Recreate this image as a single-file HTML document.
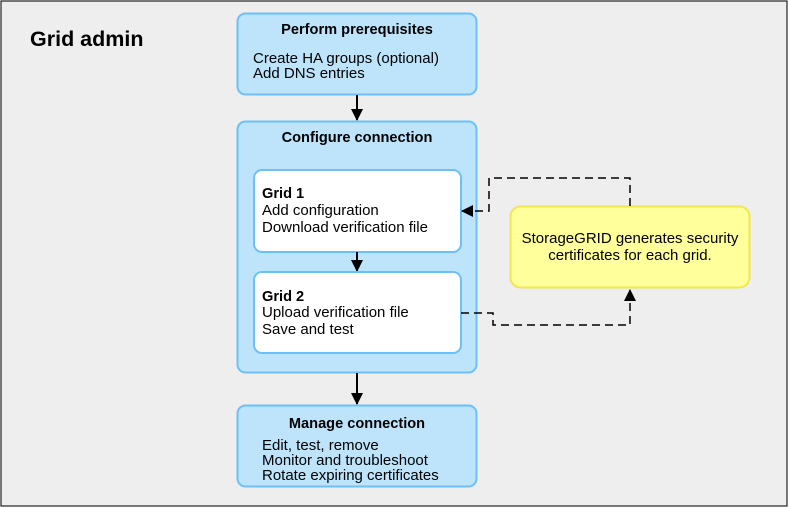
<!DOCTYPE html>
<html><head><meta charset="utf-8"><style>
html,body{margin:0;padding:0;background:#fff;}
svg{display:block;font-family:"Liberation Sans",sans-serif;}
</style></head><body>
<svg width="789" height="508" viewBox="0 0 789 508">
<rect x="1" y="1" width="786" height="505" fill="#eeeeee" stroke="#222" stroke-width="1.2"/>
<text x="30" y="46" font-size="21.5" font-weight="bold" fill="#000">Grid admin</text>
<defs><marker id="a" markerWidth="12" markerHeight="12" refX="11" refY="6" orient="auto" markerUnits="userSpaceOnUse"><path d="M0,0 L12,6 L0,12 z" fill="#000"/></marker></defs>
<rect x="237.5" y="13.5" width="239" height="81" rx="8" fill="#bde4fb" stroke="#6cc0f7" stroke-width="2"/>
<text x="357" y="34" font-size="14.6" font-weight="bold" text-anchor="middle">Perform prerequisites</text>
<text x="253" y="63" font-size="15">Create HA groups (optional)</text>
<text x="253" y="78" font-size="15">Add DNS entries</text>
<line x1="357" y1="95" x2="357" y2="120" stroke="#000" stroke-width="2" marker-end="url(#a)"/>
<rect x="237.5" y="121.5" width="239" height="251" rx="8" fill="#bde4fb" stroke="#6cc0f7" stroke-width="2"/>
<text x="357" y="142" font-size="14.6" font-weight="bold" text-anchor="middle">Configure connection</text>
<rect x="254" y="170" width="207" height="82" rx="8" fill="#fff" stroke="#6cc0f7" stroke-width="2"/>
<text x="262" y="198" font-size="14.6" font-weight="bold">Grid 1</text>
<text x="262" y="215" font-size="15">Add configuration</text>
<text x="262" y="232" font-size="15">Download verification file</text>
<line x1="357" y1="252" x2="357" y2="271" stroke="#000" stroke-width="2" marker-end="url(#a)"/>
<rect x="254" y="272" width="207" height="81" rx="8" fill="#fff" stroke="#6cc0f7" stroke-width="2"/>
<text x="262" y="301" font-size="14.6" font-weight="bold">Grid 2</text>
<text x="262" y="317" font-size="15">Upload verification file</text>
<text x="262" y="334" font-size="15">Save and test</text>
<line x1="357" y1="373" x2="357" y2="404" stroke="#000" stroke-width="2" marker-end="url(#a)"/>
<rect x="237.5" y="405.5" width="239" height="81" rx="8" fill="#bde4fb" stroke="#6cc0f7" stroke-width="2"/>
<text x="357" y="428" font-size="14.6" font-weight="bold" text-anchor="middle">Manage connection</text>
<text x="262" y="450" font-size="15">Edit, test, remove</text>
<text x="262" y="465" font-size="15">Monitor and troubleshoot</text>
<text x="262" y="480" font-size="15">Rotate expiring certificates</text>
<rect x="510.5" y="206.5" width="239" height="81" rx="10" fill="#ffff9c" stroke="#f2e64a" stroke-width="2"/>
<text x="630" y="243" font-size="15" text-anchor="middle">StorageGRID generates security</text>
<text x="630" y="260" font-size="15" text-anchor="middle">certificates for each grid.</text>
<polyline points="630,206 630,178 489,178 489,211 462,211" fill="none" stroke="#000" stroke-width="1.5" stroke-dasharray="8,5" marker-end="url(#a)"/>
<polyline points="461,313 493,313 493,325 630,325 630,290" fill="none" stroke="#000" stroke-width="1.5" stroke-dasharray="8,5" marker-end="url(#a)"/>
</svg>
</body></html>
